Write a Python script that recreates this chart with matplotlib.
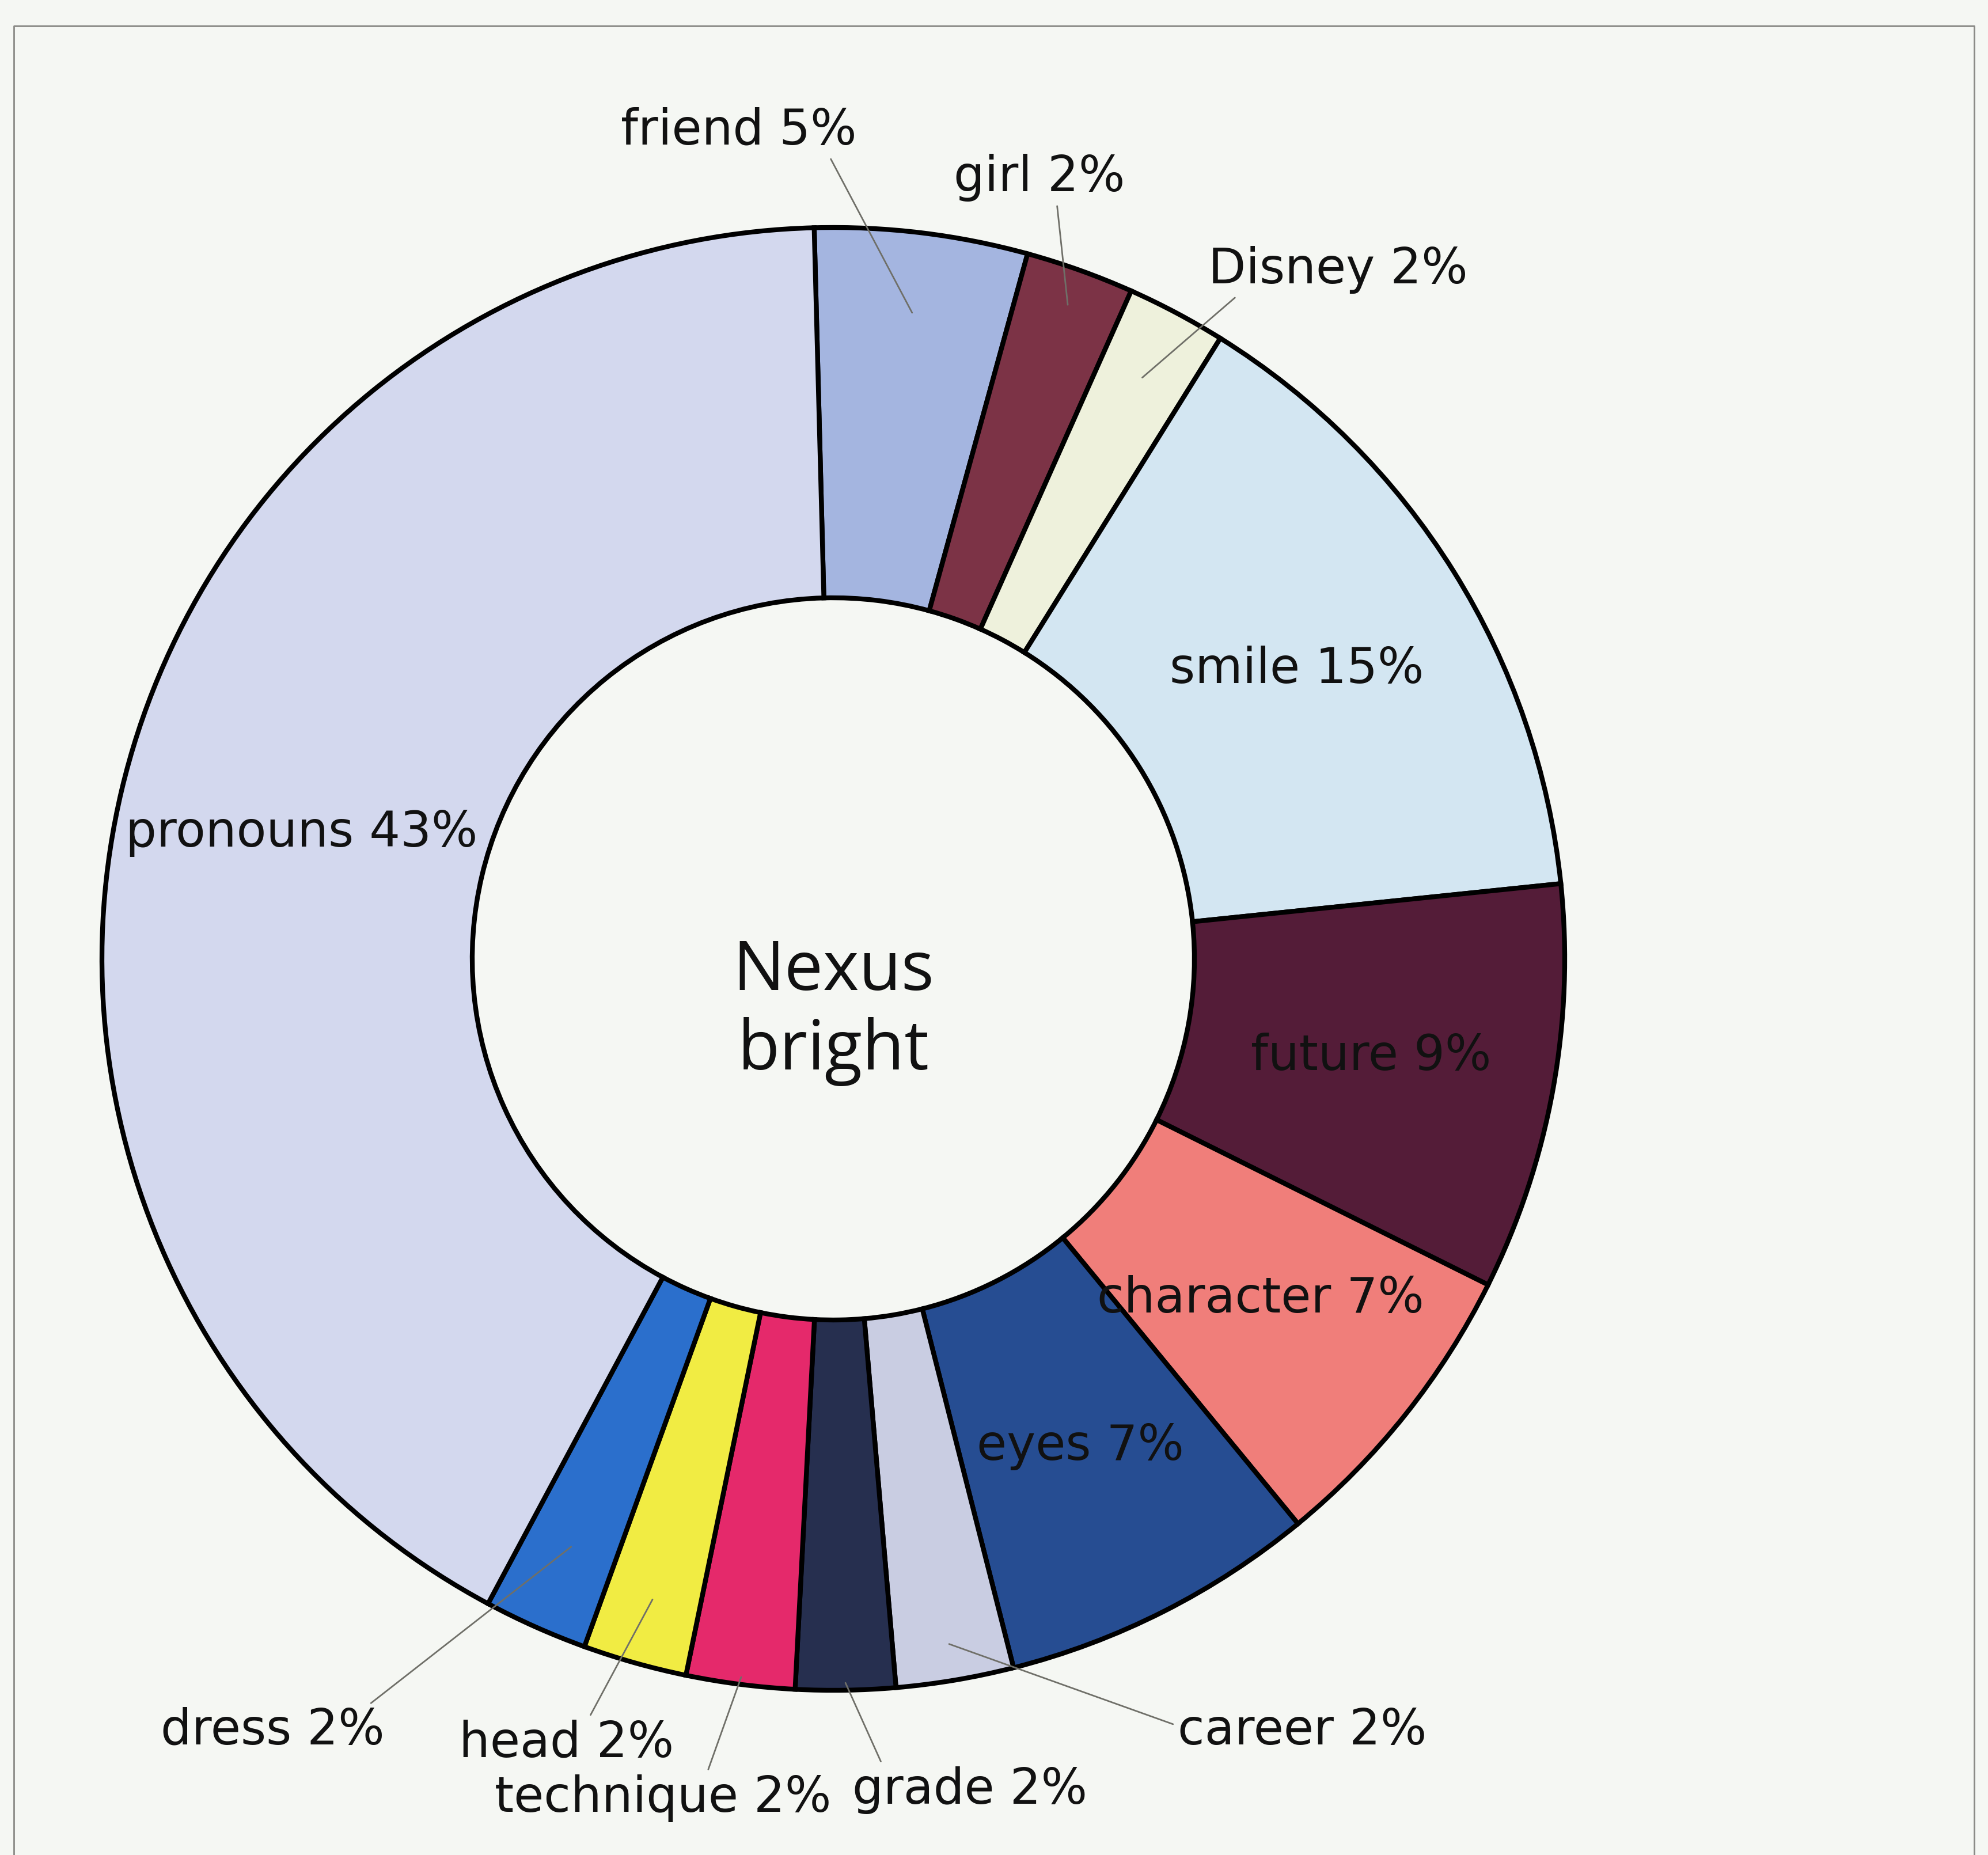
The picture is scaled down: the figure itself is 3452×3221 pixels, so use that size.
import matplotlib.pyplot as plt
import numpy as np

# slices, clockwise from the top
labels = ['friend', 'girl', 'Disney', 'smile', 'future', 'character', 'eyes',
          'career', 'grade', 'technique', 'head', 'dress', 'pronouns']
# printed percentages
pct_text = [5, 2, 2, 15, 9, 7, 7, 2, 2, 2, 2, 2, 43]
# slice sizes as drawn
shares = [4.7, 2.4, 2.2, 14.5, 9.0, 6.7, 7.0, 2.6, 2.2, 2.4, 2.3, 2.3, 41.8]
colors = ['#a4b5e0', '#7c3346', '#eef1dc', '#d3e6f2', '#541c38', '#f07e7a',
          '#264d92', '#c9cde2', '#262f4f', '#e5296b', '#f1ec43', '#2b6fcc',
          '#d3d8ee']

# which labels sit inside the ring, the rest get a leader line
inside = ['smile', 'future', 'character', 'eyes', 'pronouns']

fig = plt.figure(figsize=(34.52, 32.21), dpi=100)
fig.patch.set_facecolor('#f5f7f3')
ax = fig.add_axes([0, 0, 1, 1])

cx, cy = 1447, 1556
R = 1270
w = 643

wedges, _ = ax.pie(shares, colors=colors, startangle=91.5, counterclock=False,
                   center=(cx, cy), radius=R, frame=True,
                   wedgeprops=dict(width=w, edgecolor='black', linewidth=6))
ax.set_xlim(0, 3452)
ax.set_ylim(0, 3221)
ax.set_aspect('equal')
ax.axis('off')

# frame of the original page
ax.plot([24, 24, 3428, 3428], [0, 3176, 3176, 0], color='#8a8a86', lw=2)

ax.text(cx, cy - 92, 'Nexus\nbright', ha='center', va='center', fontsize=86,
        family='Open Sans', linespacing=1.2, color='#111111')

lab_font = dict(fontsize=61, family='DejaVu Sans', color='#111111')

# outside label placement: text position, anchor radius fraction, line start
out_pos = {
    'friend': (1283, 2994, 0.89, (0.88, 0)),
    'girl': (1805, 2913, 0.95, (0.6, 0)),
    'Disney': (2323, 2752, 0.90, (0.12, 0)),
    'career': (2261, 216, 0.95, (0.0, 0.6)),
    'grade': (1684, 113, 0.99, (0.13, 1)),
    'technique': (1151, 99, 0.99, (0.63, 1)),
    'head': (984, 194, 0.91, (0.6, 1)),
    'dress': (473, 216, 0.88, (0.92, 1)),
}

for wd, name, pct in zip(wedges, labels, pct_text):
    mid = np.deg2rad((wd.theta1 + wd.theta2) / 2)
    txt = f'{name} {pct}%'
    if name in inside:
        r = R - w / 2
        ax.text(cx + r * np.cos(mid), cy + r * np.sin(mid), txt,
                ha='center', va='center', **lab_font)
    else:
        tx, ty, frac, rp = out_pos[name]
        ax.annotate(txt, xy=(cx + frac * R * np.cos(mid), cy + frac * R * np.sin(mid)),
                    xytext=(tx, ty), ha='center', va='center', **lab_font,
                    arrowprops=dict(arrowstyle='-', color='#6f6f68', lw=2,
                                    relpos=rp, shrinkA=4, shrinkB=0))

fig.savefig('out.png', dpi=100, facecolor=fig.get_facecolor())
